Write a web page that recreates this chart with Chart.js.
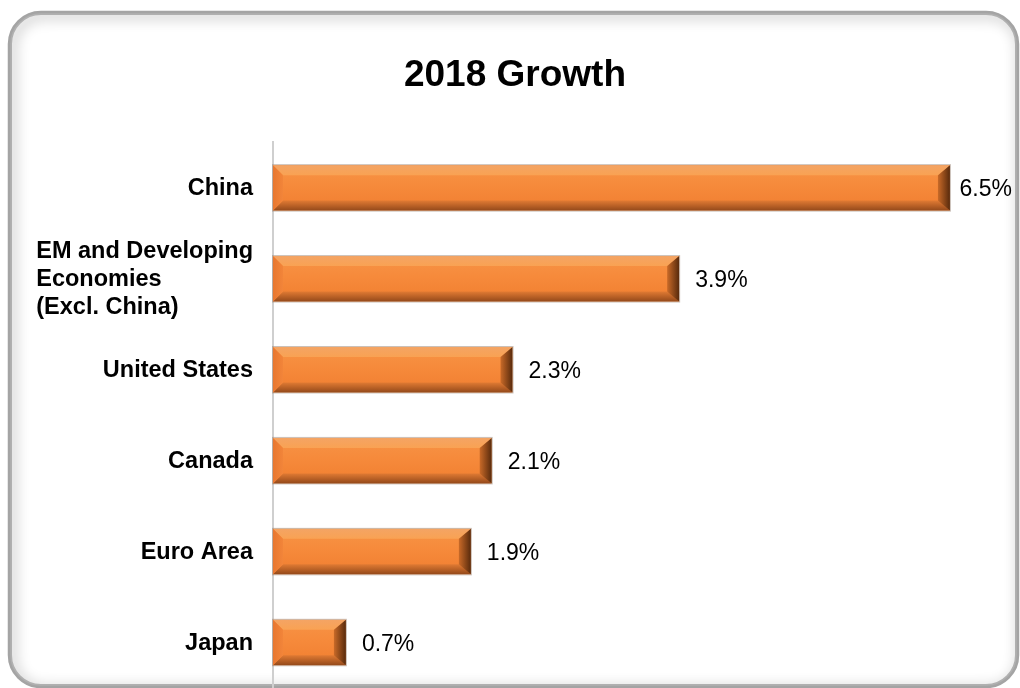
<!DOCTYPE html>
<html>
<head>
<meta charset="utf-8">
<script src="https://cdn.jsdelivr.net/npm/chart.js@4.4.1/dist/chart.umd.min.js"></script>
<style>
  html, body { margin: 0; padding: 0; background: #fff; }
  #wrap { width: 1020px; height: 688px; position: relative; }
</style>
</head>
<body>
<div id="wrap"><canvas id="growthChart"></canvas></div>
<script>
const regions = [
  'China',
  ['EM and Developing', 'Economies', '(Excl. China)'],
  'United States',
  'Canada',
  'Euro Area',
  'Japan'
];
const growth = [6.5, 3.9, 2.3, 2.1, 1.9, 0.7];

const FONT = '"Liberation Sans", Arial, sans-serif';

function roundRect(ctx, x, y, w, h, r) {
  ctx.beginPath();
  ctx.moveTo(x + r, y);
  ctx.lineTo(x + w - r, y);
  ctx.arcTo(x + w, y, x + w, y + r, r);
  ctx.lineTo(x + w, y + h - r);
  ctx.arcTo(x + w, y + h, x + w - r, y + h, r);
  ctx.lineTo(x + r, y + h);
  ctx.arcTo(x, y + h, x, y + h - r, r);
  ctx.lineTo(x, y + r);
  ctx.arcTo(x, y, x + r, y, r);
  ctx.closePath();
}

// rounded panel with a soft inner shadow behind the chart
const panel = {
  id: 'panel',
  beforeDraw(chart) {
    const ctx = chart.ctx;
    const x = 9, y = 12, w = 1009, h = 675, r = 32;
    ctx.save();
    ctx.fillStyle = '#fff';
    ctx.fillRect(0, 0, chart.width, chart.height);
    roundRect(ctx, x, y, w, h, r);
    ctx.clip();
    ctx.shadowColor = 'rgba(0,0,0,0.28)';
    ctx.shadowBlur = 14;
    ctx.shadowOffsetX = 3;
    ctx.shadowOffsetY = 3;
    ctx.lineWidth = 6;
    ctx.strokeStyle = '#b0b0b0';
    roundRect(ctx, x, y, w, h, r);
    ctx.stroke();
    ctx.restore();

    ctx.save();
    ctx.lineWidth = 2.5;
    ctx.strokeStyle = '#a4a4a4';
    roundRect(ctx, x, y, w, h, r);
    ctx.stroke();
    ctx.restore();
  }
};

function facet(ctx, pts, fill) {
  ctx.beginPath();
  ctx.moveTo(pts[0][0], pts[0][1]);
  for (let i = 1; i < pts.length; i++) ctx.lineTo(pts[i][0], pts[i][1]);
  ctx.closePath();
  ctx.fillStyle = fill;
  ctx.fill();
}

// bevelled bars, category labels and value labels
const bevel = {
  id: 'bevel',
  afterDatasetsDraw(chart) {
    const ctx = chart.ctx;
    const meta = chart.getDatasetMeta(0);
    meta.data.forEach((bar, i) => {
      const p = bar.getProps(['x', 'y', 'base', 'height'], true);
      const L = p.base, R = p.x, T = p.y - p.height / 2, B = p.y + p.height / 2;
      const b = 10;
      ctx.save();

      const body = ctx.createLinearGradient(0, T, 0, B);
      body.addColorStop(0, '#f79446');
      body.addColorStop(0.45, '#f68a3b');
      body.addColorStop(1, '#f07e30');
      ctx.fillStyle = body;
      ctx.fillRect(L, T, R - L, B - T);

      const top = ctx.createLinearGradient(0, T, 0, T + b);
      top.addColorStop(0, '#f4a464');
      top.addColorStop(1, '#f9a253');
      facet(ctx, [[L, T], [R, T], [R - b, T + b], [L + b, T + b]], top);

      const bot = ctx.createLinearGradient(0, B - b, 0, B);
      bot.addColorStop(0, '#e07a33');
      bot.addColorStop(1, '#94491a');
      facet(ctx, [[L, B], [R, B], [R - b, B - b], [L + b, B - b]], bot);

      const left = ctx.createLinearGradient(L, 0, L + b, 0);
      left.addColorStop(0, '#e8772f');
      left.addColorStop(1, '#f2853a');
      facet(ctx, [[L, T], [L + b, T + b], [L + b, B - b], [L, B]], left);

      const right = ctx.createLinearGradient(R - b - 2, 0, R, 0);
      right.addColorStop(0, '#c96a28');
      right.addColorStop(1, '#582a0c');
      facet(ctx, [[R, T], [R - b - 2, T + b], [R - b - 2, B - b], [R, B]], right);

      ctx.lineWidth = 1;
      ctx.strokeStyle = 'rgba(160,140,125,0.55)';
      ctx.strokeRect(L - 0.5, T - 0.5, R - L + 1, B - T + 1);

      // value label
      const txt = growth[i].toFixed(1) + '%';
      ctx.font = '23px ' + FONT;
      ctx.fillStyle = '#000';
      ctx.textBaseline = 'middle';
      ctx.textAlign = 'left';
      const tw = ctx.measureText(txt).width;
      const tx = Math.min(R + 16, chart.width - tw - 8);
      ctx.fillText(txt, tx, p.y + 2);
      ctx.restore();
    });

    // category labels, multi-line ones left-aligned as a block
    const yScale = chart.scales.y;
    ctx.save();
    ctx.font = 'bold 23.5px ' + FONT;
    ctx.fillStyle = '#000';
    ctx.textBaseline = 'middle';
    ctx.textAlign = 'left';
    const rightEdge = yScale.right - 20;
    regions.forEach((lab, i) => {
      const lines = Array.isArray(lab) ? lab : [lab];
      const cy = yScale.getPixelForTick(i);
      const wMax = Math.max(...lines.map(s => ctx.measureText(s).width));
      const lh = 28;
      const y0 = cy - (lines.length - 1) * lh / 2 + 1;
      lines.forEach((s, k) => ctx.fillText(s, rightEdge - wMax, y0 + k * lh));
    });
    ctx.restore();
  }
};

new Chart(document.getElementById('growthChart'), {
  type: 'bar',
  data: {
    labels: regions,
    datasets: [{
      label: '2018 Growth',
      data: growth,
      backgroundColor: 'rgba(0,0,0,0)',
      borderWidth: 0,
      barPercentage: 0.5,
      categoryPercentage: 1
    }]
  },
  options: {
    indexAxis: 'y',
    responsive: true,
    maintainAspectRatio: false,
    animation: false,
    layout: { padding: { left: 28, right: 18, top: 0, bottom: 0 } },
    plugins: {
      legend: { display: false },
      tooltip: { enabled: false },
      title: {
        display: true,
        text: '2018 Growth',
        color: '#000',
        font: { family: FONT, size: 37, weight: 'bold', lineHeight: 1.2 },
        padding: { top: 54, bottom: 44 }
      }
    },
    scales: {
      x: { display: false, min: 0, max: 7 },
      y: {
        grid: { display: false },
        border: { display: true, color: '#cfcfcf', width: 2 },
        ticks: { display: false },
        afterFit: (scale) => { scale.width = 245; }
      }
    }
  },
  plugins: [panel, bevel]
});
</script>
</body>
</html>
